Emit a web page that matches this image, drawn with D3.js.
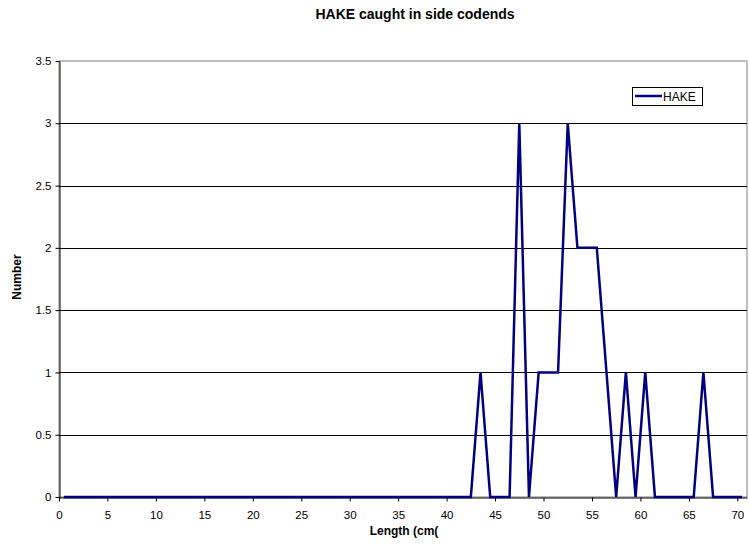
<!DOCTYPE html>
<html>
<head>
<meta charset="utf-8">
<script src="https://cdn.jsdelivr.net/npm/d3@7"></script>
<style>
  body { margin: 0; background: #fff; }
  svg { display: block; font-family: "Liberation Sans", Arial, sans-serif; }
</style>
</head>
<body>
<svg id="chart" width="749" height="550"></svg>
<script>
// Length classes (class midpoints, cm) and number of hake caught in each
const lengths = d3.range(0, 71).map(i => i + 0.5);
const counts = [
  0,0,0,0,0,0,0,0,0,0,   // 0-9
  0,0,0,0,0,0,0,0,0,0,   // 10-19
  0,0,0,0,0,0,0,0,0,0,   // 20-29
  0,0,0,0,0,0,0,0,0,0,   // 30-39
  0,0,0,1,0,0,0,3,0,1,   // 40-49
  1,1,3,2,2,2,1,0,1,0,   // 50-59
  1,0,0,0,0,0,1,0,0,0,   // 60-69
  0                      // 70
];
const seriesName = "HAKE";
const xTicks = d3.range(0, 71, 5);
const yTicks = [0, 0.5, 1, 1.5, 2, 2.5, 3, 3.5];

const svg = d3.select("#chart");
const m = { left: 59, right: 747, top: 61, bottom: 497 };

const x = d3.scaleLinear().domain([0, 71]).range([m.left, m.right]);
const y = d3.scaleLinear().domain([0, 3.5]).range([m.bottom, m.top]);

// plot area frame (right and top edges in grey)
svg.append("rect")
  .attr("x", m.left).attr("y", m.top)
  .attr("width", m.right - m.left).attr("height", m.bottom - m.top)
  .attr("fill", "#fff").attr("stroke", "#808080").attr("stroke-width", 1);

// horizontal gridlines
svg.append("g")
  .selectAll("line")
  .data(yTicks.filter(v => v > 0 && v < 3.5))
  .join("line")
  .attr("x1", m.left).attr("x2", m.right)
  .attr("y1", d => Math.round(y(d)) + 0.5).attr("y2", d => Math.round(y(d)) + 0.5)
  .attr("stroke", "#000").attr("stroke-width", 1);

// y axis
const yAxis = svg.append("g")
  .attr("transform", `translate(${m.left + 0.5},0)`)
  .call(d3.axisLeft(y).tickValues(yTicks).tickSize(4).tickSizeOuter(0)
    .tickFormat(d => d3.format("")(d)));
yAxis.select(".domain").attr("stroke", "#000");
yAxis.selectAll(".tick line").attr("stroke", "#000");
yAxis.selectAll("text").attr("font-size", 11.5).attr("fill", "#000")
  .attr("font-family", "Liberation Sans, Arial, sans-serif").attr("x", -8);

// x axis
const xAxis = svg.append("g")
  .attr("transform", `translate(0,${m.bottom + 0.5})`)
  .call(d3.axisBottom(x).tickValues(xTicks).tickSize(4).tickSizeOuter(0));
xAxis.select(".domain").attr("stroke", "#000");
xAxis.selectAll(".tick line").attr("stroke", "#000");
xAxis.selectAll("text").attr("font-size", 11.5).attr("fill", "#000")
  .attr("font-family", "Liberation Sans, Arial, sans-serif").attr("y", 13);

// series line
const line = d3.line().x((d, i) => x(lengths[i])).y(d => y(d));
svg.append("path")
  .datum(counts)
  .attr("d", line)
  .attr("fill", "none")
  .attr("stroke", "#000080")
  .attr("stroke-width", 2.5)
  .attr("stroke-linejoin", "miter");

// legend
const lg = svg.append("g");
lg.append("rect")
  .attr("x", 632.5).attr("y", 87.5).attr("width", 70).attr("height", 18)
  .attr("fill", "#fff").attr("stroke", "#000").attr("stroke-width", 1);
lg.append("line")
  .attr("x1", 635).attr("x2", 662).attr("y1", 96).attr("y2", 96)
  .attr("stroke", "#000080").attr("stroke-width", 2.5);
lg.append("text")
  .attr("x", 663).attr("y", 100.5)
  .attr("font-size", 12).text(seriesName);

// title
svg.append("text")
  .attr("x", 415).attr("y", 19)
  .attr("text-anchor", "middle")
  .attr("font-size", 14).attr("font-weight", "bold")
  .text("HAKE caught in side codends");

// axis titles
svg.append("text")
  .attr("x", 404).attr("y", 535)
  .attr("text-anchor", "middle")
  .attr("font-size", 12).attr("font-weight", "bold")
  .text("Length (cm(");

svg.append("text")
  .attr("transform", "translate(21,277) rotate(-90)")
  .attr("text-anchor", "middle")
  .attr("font-size", 12).attr("font-weight", "bold")
  .text("Number");
</script>
</body>
</html>
